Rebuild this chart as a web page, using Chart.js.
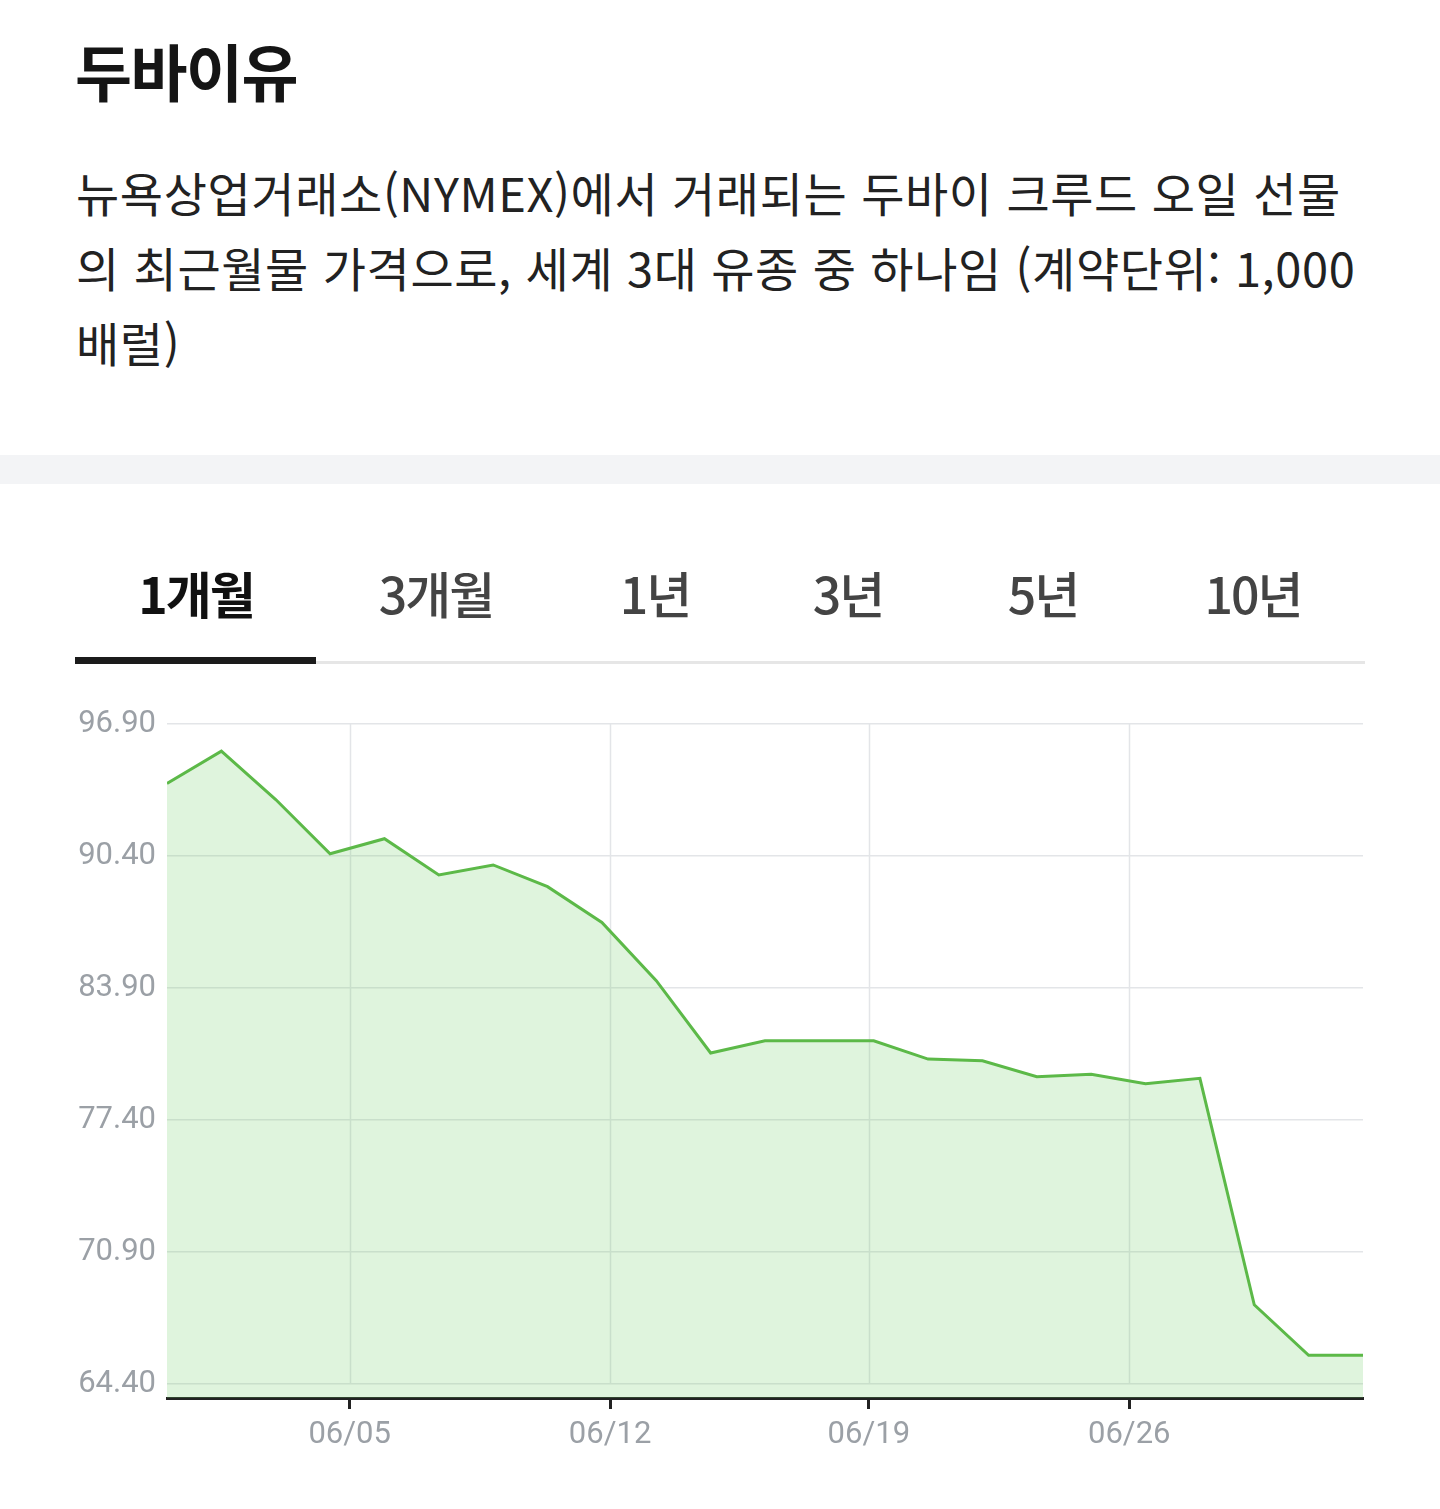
<!DOCTYPE html>
<html lang="ko">
<head>
<meta charset="utf-8">
<title>두바이유</title>
<script src="https://cdn.jsdelivr.net/npm/chart.js@4.4.1/dist/chart.umd.min.js"></script>
<style>
  html, body { margin: 0; padding: 0; background: #fff; }
  body { width: 1440px; height: 1509px; position: relative; overflow: hidden;
         font-family: "Noto Sans CJK KR", "Noto Sans", sans-serif; }
  .title { position: absolute; left: 75px; top: 37px; font-size: 62px; line-height: 66px;
           font-weight: 700; color: #151515; letter-spacing: -1.5px; }
  .desc { position: absolute; left: 76px; top: 154px; font-size: 47px; line-height: 75px;
          color: #222; white-space: nowrap; letter-spacing: 0.6px; }
  .band { position: absolute; left: 0; top: 455px; width: 1440px; height: 29px; background: #f3f4f6; }
  .tab { position: absolute; top: 563px; font-size: 50px; line-height: 58px; color: #444;
         font-weight: 500; transform: translateX(-50%); white-space: nowrap; letter-spacing: -2px; }
  .tab.on { color: #111; font-weight: 700; }
  .tabline { position: absolute; left: 75px; top: 661px; width: 1290px; height: 3px; background: #e6e6e6; }
  .tabbar { position: absolute; left: 75px; top: 657px; width: 241px; height: 7px; background: #1b1b1b; }
  .chartbox { position: absolute; left: 0; top: 680px; width: 1440px; height: 790px; }
</style>
</head>
<body>
<div class="title">두바이유</div>
<div class="desc">뉴욕상업거래소(NYMEX)에서 거래되는 두바이 크루드 오일 선물<br>의 최근월물 가격으로, 세계 3대 유종 중 하나임 (계약단위: 1,000<br>배럴)</div>
<div class="band"></div>

<div class="tab on" style="left:196px">1개월</div>
<div class="tab" style="left:436px">3개월</div>
<div class="tab" style="left:655px">1년</div>
<div class="tab" style="left:848px">3년</div>
<div class="tab" style="left:1043px">5년</div>
<div class="tab" style="left:1253px">10년</div>
<div class="tabline"></div>
<div class="tabbar"></div>

<div class="chartbox"><canvas id="oilChart"></canvas></div>

<script>
// price per trading day (USD / bbl), evenly spaced points
const prices = [93.97, 95.56, 93.18, 90.51, 91.25, 89.47, 89.96, 88.89, 87.13, 84.26,
                80.70, 81.30, 81.30, 81.30, 80.40, 80.32, 79.53, 79.65, 79.19, 79.45,
                68.30, 65.81, 65.81];
// y axis ticks
const yTicks = [64.40, 70.90, 77.40, 83.90, 90.40, 96.90];
// date labels and where they fall, in point-index units
const xTickLabels = ['06/05', '06/12', '06/19', '06/26'];
const xTickAt = [3.36, 8.15, 12.91, 17.70];

const points = prices.map(function (v, i) { return { x: i, y: v }; });

// vertical grid lines stop at the lowest y tick
const vGrid = {
  id: 'vGrid',
  beforeDatasetsDraw: function (chart) {
    const ctx = chart.ctx, x = chart.scales.x, y = chart.scales.y;
    const bottom = y.getPixelForValue(yTicks[0]);
    ctx.save();
    ctx.strokeStyle = '#e3e5e8';
    ctx.lineWidth = 1.5;
    xTickAt.forEach(function (t) {
      const px = Math.round(x.getPixelForValue(t)) + 0.5;
      ctx.beginPath();
      ctx.moveTo(px, chart.chartArea.top);
      ctx.lineTo(px, bottom);
      ctx.stroke();
    });
    ctx.restore();
  }
};

const ctx = document.getElementById('oilChart');
new Chart(ctx, {
  type: 'line',
  data: {
    datasets: [{
      data: points,
      borderColor: '#5cb948',
      borderWidth: 3,
      backgroundColor: 'rgba(110, 205, 100, 0.22)',
      fill: 'start',
      pointRadius: 0,
      tension: 0
    }]
  },
  options: {
    responsive: true,
    maintainAspectRatio: false,
    animation: false,
    layout: { padding: { top: 44, right: 77, left: 0, bottom: 0 } },
    plugins: { legend: { display: false }, tooltip: { enabled: false } },
    scales: {
      x: {
        type: 'linear',
        min: 0,
        max: prices.length - 1,
        afterBuildTicks: function (axis) {
          axis.ticks = xTickAt.map(function (v) { return { value: v }; });
        },
        afterFit: function (axis) { axis.height = 72; },
        ticks: {
          autoSkip: false,
          maxRotation: 0,
          padding: 8,
          color: '#9ba0a6',
          font: { family: 'Roboto, "Noto Sans", sans-serif', size: 31 },
          callback: function (v, i) { return xTickLabels[i]; }
        },
        grid: {
          drawOnChartArea: false,
          drawTicks: true,
          tickLength: 11,
          tickWidth: 3,
          tickColor: '#222'
        },
        border: { display: true, color: '#222', width: 3 }
      },
      y: {
        min: 63.71,
        max: 96.90,
        afterBuildTicks: function (axis) {
          axis.ticks = yTicks.map(function (v) { return { value: v }; });
        },
        afterFit: function (axis) { axis.width = 167; },
        ticks: {
          padding: 11,
          color: '#9ba0a6',
          font: { family: 'Roboto, "Noto Sans", sans-serif', size: 31 },
          callback: function (v) { return Number(v).toFixed(2); }
        },
        grid: { color: '#e3e5e8', lineWidth: 1.5, drawTicks: false },
        border: { display: false }
      }
    }
  },
  plugins: [vGrid]
});
</script>
</body>
</html>
